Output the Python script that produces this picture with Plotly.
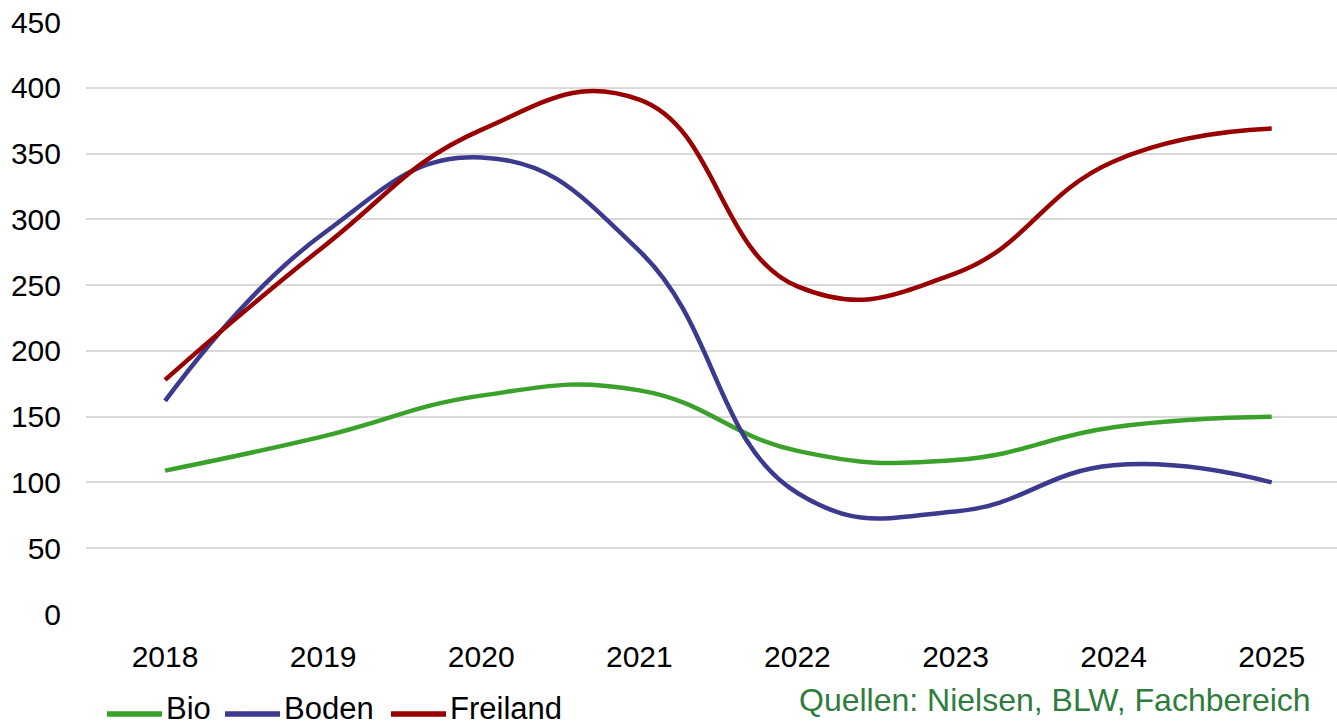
import plotly.graph_objects as go

years = ["2018", "2019", "2020", "2021", "2022", "2023", "2024", "2025"]
bio = [109, 135, 166, 170, 124, 117, 142, 150]
boden = [162, 289, 347, 276, 92, 78, 113, 100]
freiland = [178, 279, 368, 391, 249, 259, 344, 369]
y_ticks = [0, 50, 100, 150, 200, 250, 300, 350, 400, 450]
source_text = "Quellen: Nielsen, BLW, Fachbereich"

font_family = "Liberation Sans, Arial, sans-serif"
series = [("Bio", bio, "#3aa12b"),
          ("Boden", boden, "#3b3a8e"),
          ("Freiland", freiland, "#990000")]

# layout geometry (pixels)
W, H = 1337, 728
L, R, T, B = 86, 0, 22, 114
pw = W - L - R
ph = H - T - B

def px_x(p):
    return (p - L) / pw

def px_y(p):
    return (H - B - p) / ph

fig = go.Figure()
for name, vals, color in series:
    fig.add_trace(go.Scatter(
        x=years, y=vals, name=name, mode="lines",
        line=dict(color=color, width=4.5, shape="spline", smoothing=1.3),
        showlegend=False,
    ))

fig.update_layout(
    width=W, height=H,
    margin=dict(l=L, r=R, t=T, b=B),
    paper_bgcolor="white", plot_bgcolor="white",
    font=dict(family=font_family, size=30, color="black"),
    showlegend=False,
    xaxis=dict(type="category", range=[-0.5, 7.413], showgrid=False,
               showline=False, zeroline=False, ticks="",
               ticklabelstandoff=22, tickfont=dict(size=30)),
    yaxis=dict(range=[0, 450], tickvals=y_ticks, showgrid=True,
               gridcolor="#d9d9d9", gridwidth=1.5, zeroline=False,
               showline=False, ticks="", ticklabelstandoff=24,
               tickfont=dict(size=30)),
)

# custom legend (line samples + labels) below the plot
legend_y = 714
legend_items = [(107, 162, 164), (225, 280, 282), (391, 446, 448)]
for (name, _, color), (x0, x1, xt) in zip(series, legend_items):
    fig.add_shape(type="line", xref="paper", yref="paper",
                  x0=px_x(x0), x1=px_x(x1), y0=px_y(legend_y), y1=px_y(legend_y),
                  line=dict(color=color, width=5.5))
    fig.add_annotation(text=name, xref="paper", yref="paper",
                       x=px_x(xt), y=px_y(728), xanchor="left",
                       yanchor="bottom", showarrow=False,
                       font=dict(size=31, color="black", family=font_family))

fig.add_annotation(text=source_text, xref="paper", yref="paper",
                   x=px_x(1313), y=px_y(700), xanchor="right", yanchor="middle",
                   showarrow=False, font=dict(size=32, color="#2e7d3c",
                                              family=font_family))

fig.write_html("out.html",
               config={"displayModeBar": False},
               post_script="document.body.style.margin='0px';"
                           "document.body.style.overflow='hidden';")
